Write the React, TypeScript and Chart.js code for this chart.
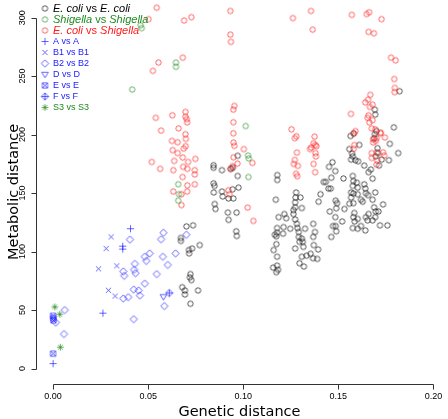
import React, { useEffect, useRef } from "react";
import { Chart, registerables } from "chart.js";

Chart.register(...registerables);

// ---- axis ticks & titles ----
const xTicks = [0, 0.05, 0.1, 0.15, 0.2];
const xTickLabels = ["0.00", "0.05", "0.10", "0.15", "0.20"];
const yTicks = [0, 50, 100, 150, 200, 250, 300];
const yTickLabels = ["0", "50", "100", "150", "200", "250", "300"];
const xTitle = "Genetic distance";
const yTitle = "Metabolic distance";

type Pt = [number, number];

// ---- series (genetic distance, metabolic distance) ----
const ecoliVsEcoli: Pt[] = [
  [0.0701, 121.5], [0.0736, 122.4], [0.0672, 111.6], [0.0672, 109.1], [0.0731, 102.6], [0.0714, 101.3], [0.0715, 98.4], [0.0771, 105.5],
  [0.0722, 80.7], [0.0719, 77.9], [0.0727, 75.6], [0.0679, 69.5], [0.0693, 66.7], [0.0693, 63.3], [0.0762, 66.7], [0.0722, 55.4],
  [0.0844, 173.8], [0.0844, 171.6], [0.0888, 169.6], [0.0971, 181.9], [0.0945, 171.6], [0.0935, 170.7], [0.0971, 164.6], [0.0844, 158.3],
  [0.0849, 156.1], [0.0845, 150.5], [0.0888, 151.3], [0.0892, 147.1], [0.0922, 145.4], [0.0948, 145.4], [0.0944, 153.2], [0.0975, 154.7],
  [0.085, 140.6], [0.0854, 136.4], [0.0919, 133.3], [0.0965, 133.3], [0.0923, 127.1], [0.0963, 117.3], [0.0966, 113.3],
  [0.1179, 165.4], [0.1179, 161.2], [0.1171, 144.3], [0.1278, 150.5], [0.1301, 146.2], [0.1275, 146.2], [0.1273, 142.0], [0.1273, 137.8],
  [0.1308, 137.2], [0.1264, 135.5], [0.1264, 132.1], [0.1216, 132.1], [0.1226, 128.5], [0.1186, 129.4], [0.1273, 127.4], [0.1282, 123.7],
  [0.1285, 120.1], [0.1247, 119.5], [0.1212, 120.9], [0.1178, 120.1], [0.1178, 116.1], [0.1166, 114.4], [0.1174, 113.1], [0.1209, 115.3],
  [0.1292, 116.7], [0.1292, 112.5], [0.1296, 108.3], [0.1308, 111.1], [0.1325, 119.5], [0.1368, 123.7], [0.1377, 116.7], [0.1174, 106.3],
  [0.116, 101.3], [0.1273, 102.6], [0.1313, 108.3], [0.1316, 104.0], [0.1368, 112.5], [0.1371, 105.5], [0.1308, 95.6], [0.1333, 96.5],
  [0.1354, 98.1], [0.1367, 94.3], [0.1389, 93.7], [0.1394, 101.8], [0.1178, 95.6], [0.1157, 86.3], [0.1178, 88.0], [0.1183, 84.4],
  [0.1174, 82.4], [0.1296, 90.0], [0.1319, 87.2],
  [0.1792, 206.2], [0.1815, 184.2], [0.1771, 192.1], [0.1564, 198.8], [0.1581, 201.1], [0.1558, 187.6], [0.1572, 183.8], [0.1576, 181.4],
  [0.159, 178.1], [0.1604, 177.2], [0.1567, 178.6], [0.161, 191.2], [0.1688, 196.9], [0.1692, 200.5], [0.1706, 188.4], [0.1697, 181.4],
  [0.1714, 173.5], [0.1766, 178.1], [0.1728, 178.6], [0.1469, 176.4], [0.1451, 172.4], [0.1484, 168.8], [0.1463, 163.1], [0.1527, 162.5],
  [0.1576, 164.6], [0.1579, 160.3], [0.1597, 158.9], [0.1576, 156.1], [0.1602, 154.7], [0.1636, 173.5], [0.1659, 167.9], [0.1671, 170.1],
  [0.168, 162.3], [0.1636, 157.5], [0.1642, 153.8], [0.1645, 149.9], [0.1656, 148.2], [0.1567, 150.5], [0.1579, 149.6], [0.1602, 149.0],
  [0.1567, 146.2], [0.1619, 144.3], [0.1628, 142.6], [0.1694, 150.5], [0.168, 144.3], [0.1558, 140.9], [0.1579, 141.4], [0.1735, 140.3],
  [0.1688, 137.8], [0.1711, 134.2], [0.1697, 134.2], [0.1659, 132.1], [0.1584, 133.0], [0.1579, 129.4], [0.1602, 127.9], [0.1586, 125.7],
  [0.1645, 129.4], [0.1654, 126.6], [0.168, 126.6], [0.1694, 129.4], [0.1719, 122.4], [0.1758, 122.4], [0.1576, 120.1], [0.1602, 119.5],
  [0.1619, 121.8], [0.1642, 118.1], [0.1423, 159.5], [0.1434, 159.5], [0.1448, 153.8], [0.146, 153.8], [0.1406, 149.0], [0.1396, 142.6],
  [0.1486, 143.5], [0.1493, 141.4], [0.1489, 137.0], [0.1532, 136.4], [0.1455, 134.2], [0.1484, 129.4], [0.152, 125.7], [0.1472, 121.8],
  [0.1486, 121.8], [0.1489, 117.3], [0.1463, 112.5], [0.1692, 221.3], [0.1694, 217.1], [0.1701, 203.0], [0.1708, 184.2], [0.1822, 237.1],
];

const shigellaVsShigella: Pt[] = [
  [0.046, 293.5], [0.0466, 291.0], [0.0646, 261.6], [0.0646, 257.9], [0.0416, 238.5], [0.1013, 207.3],
  [0.1025, 182.1], [0.1029, 179.6], [0.1027, 163.7], [0.0658, 157.5], [0.0662, 149.0], [0.0658, 143.5],
];

const ecoliVsShigella: Pt[] = [
  [0.0545, 308.5], [0.0502, 298.7], [0.0689, 297.5], [0.0727, 300.4], [0.0932, 305.7], [0.0932, 285.5], [0.0935, 279.3], [0.0682, 265.8],
  [0.0554, 261.6], [0.0525, 254.5], [0.1356, 305.7], [0.1261, 299.6], [0.1365, 289.7], [0.1571, 302.4], [0.1649, 303.0], [0.1662, 304.6],
  [0.1727, 298.7], [0.1659, 287.8], [0.1687, 286.6], [0.1777, 265.8], [0.1801, 263.5], [0.1794, 247.5], [0.1797, 239.9], [0.1796, 236.3],
  [0.0953, 224.5], [0.0948, 221.3], [0.054, 214.3], [0.0627, 216.5], [0.0696, 219.4], [0.0696, 215.2], [0.0703, 213.2], [0.0705, 210.4],
  [0.0948, 210.6], [0.0568, 203.4], [0.066, 205.3], [0.0696, 200.3], [0.0698, 196.3], [0.0948, 201.1], [0.0625, 194.6], [0.0655, 193.5],
  [0.0949, 193.2], [0.0697, 190.1], [0.0687, 188.0], [0.0629, 186.7], [0.1003, 187.6], [0.0953, 190.4], [0.0655, 184.2], [0.0682, 180.4],
  [0.0949, 180.6], [0.0637, 177.5], [0.071, 176.6], [0.0748, 179.2], [0.0519, 176.6], [0.0563, 170.7], [0.0632, 169.6], [0.0684, 172.4],
  [0.0706, 170.7], [0.0745, 169.6], [0.0745, 165.9], [0.0681, 163.7], [0.0706, 156.6], [0.0745, 157.5], [0.0632, 151.3], [0.0705, 151.3],
  [0.0675, 149.0], [0.0675, 139.7], [0.097, 175.2], [0.0932, 170.7], [0.0944, 173.0], [0.1048, 175.8], [0.0922, 152.4], [0.0927, 149.0],
  [0.1023, 137.6], [0.1053, 126.2],
  [0.1254, 204.5], [0.1279, 198.6], [0.1271, 196.9], [0.1282, 184.6], [0.1271, 178.3], [0.1266, 174.9], [0.1287, 173.3], [0.1278, 166.5],
  [0.1284, 164.4],
  [0.1375, 198.3], [0.137, 192.7], [0.1378, 191.0], [0.1357, 188.9], [0.1351, 187.6], [0.1385, 190.1], [0.138, 184.2], [0.1382, 181.3],
  [0.137, 174.9], [0.1378, 167.8],
  [0.1668, 234.0], [0.1656, 229.8], [0.1642, 227.5], [0.168, 225.6], [0.1666, 223.6], [0.1566, 217.7], [0.1659, 216.5], [0.1654, 214.3],
  [0.1663, 210.4], [0.168, 212.3], [0.1676, 205.3], [0.1694, 204.5], [0.1723, 201.7], [0.1745, 197.5], [0.1683, 196.0], [0.1697, 194.6],
  [0.1683, 193.2], [0.159, 203.0], [0.1581, 200.7], [0.1584, 191.0], [0.1581, 187.8], [0.1676, 184.2], [0.1735, 184.8], [0.1741, 182.1],
  [0.1676, 180.0], [0.1702, 184.8], [0.1704, 178.1], [0.1701, 174.3], [0.1722, 201.1], [0.1701, 196.9],
];

const aVsA: Pt[] = [[0.0407, 119.5], [0.0366, 104.6], [0.0366, 102.1], [0.0262, 47.3], [0.0, 4.2]];
const b1VsB1: Pt[] = [[0.0305, 112.5], [0.0279, 102.6], [0.0335, 87.8], [0.0239, 85.2], [0.0291, 66.9], [0.0326, 61.9]];
const b2VsB2: Pt[] = [
  [0.058, 116.1], [0.0568, 110.5], [0.0404, 110.2], [0.0644, 98.4], [0.0508, 98.4], [0.0482, 95.6], [0.049, 92.0], [0.0577, 95.6],
  [0.0603, 88.6], [0.043, 89.5], [0.0426, 84.4], [0.0433, 81.5], [0.0369, 83.0], [0.0374, 79.3], [0.0545, 80.7], [0.0482, 72.6],
  [0.0424, 67.5], [0.045, 66.7], [0.0456, 62.4], [0.0395, 61.0], [0.0369, 59.9], [0.0424, 42.2], [0.0585, 53.4], [0.0061, 50.0],
  [0.0014, 39.3], [0.0057, 29.5], [0.0701, 114.4],
];
const dVsD: Pt[] = [[0.058, 61.3]];
const eVsE: Pt[] = [[0.0, 45.0], [0.0001, 43.0], [0.0002, 41.2], [0.0, 12.7]];
const fVsF: Pt[] = [[0.0611, 64.6]];
const s3VsS3: Pt[] = [[0.0009, 52.6], [0.0035, 46.4], [0.0038, 18.2]];

// ---- styles ----
const BLACK = "#000000";
const GREEN = "#1f8a1f";
const RED = "#ff1a1a";
const BLUE = "#1a1aff";
const LEGEND_FONT = '"Liberation Sans", Arial, sans-serif';
const TITLE_FONT = '"DejaVu Sans", sans-serif';

const X_MIN = -0.008468;
const X_MAX = 0.205039;
const Y_MIN = -13.25;
const Y_MAX = 310.8;

type Seg = [string, boolean];
const series: { label: Seg[]; data: Pt[]; color: string; marker: string; order: number; fontSize: number }[] = [
  { label: [["E. coli", true], [" vs ", false], ["E. coli", true]], data: ecoliVsEcoli, color: BLACK, marker: "circle", order: 10, fontSize: 11 },
  { label: [["Shigella", true], [" vs ", false], ["Shigella", true]], data: shigellaVsShigella, color: GREEN, marker: "circle", order: 8, fontSize: 11 },
  { label: [["E. coli", true], [" vs ", false], ["Shigella", true]], data: ecoliVsShigella, color: RED, marker: "circle", order: 9, fontSize: 11 },
  { label: [["A vs A", false]], data: aVsA, color: BLUE, marker: "plus", order: 1, fontSize: 9 },
  { label: [["B1 vs B1", false]], data: b1VsB1, color: BLUE, marker: "x", order: 2, fontSize: 9 },
  { label: [["B2 vs B2", false]], data: b2VsB2, color: BLUE, marker: "diamond", order: 3, fontSize: 9 },
  { label: [["D vs D", false]], data: dVsD, color: BLUE, marker: "tridown", order: 4, fontSize: 9 },
  { label: [["E vs E", false]], data: eVsE, color: BLUE, marker: "squarex", order: 5, fontSize: 9 },
  { label: [["F vs F", false]], data: fVsF, color: BLUE, marker: "diamondplus", order: 6, fontSize: 9 },
  { label: [["S3 vs S3", false]], data: s3VsS3, color: GREEN, marker: "star", order: 7, fontSize: 9 },
];

function makeMarker(kind: string, color: string): HTMLCanvasElement {
  const s = 11;
  const c = document.createElement("canvas");
  c.width = s;
  c.height = s;
  const g = c.getContext("2d")!;
  g.strokeStyle = color;
  g.lineWidth = 0.8;
  g.globalAlpha = 0.85;
  const m = s / 2;
  g.beginPath();
  const plus = (r: number) => {
    g.moveTo(m - r, m); g.lineTo(m + r, m);
    g.moveTo(m, m - r); g.lineTo(m, m + r);
  };
  const cross = (r: number) => {
    g.moveTo(m - r, m - r); g.lineTo(m + r, m + r);
    g.moveTo(m + r, m - r); g.lineTo(m - r, m + r);
  };
  const diamond = (r: number) => {
    g.moveTo(m, m - r); g.lineTo(m + r, m); g.lineTo(m, m + r); g.lineTo(m - r, m); g.closePath();
  };
  switch (kind) {
    case "circle":
      g.arc(m, m, 2.7, 0, Math.PI * 2);
      break;
    case "plus":
      plus(3.6);
      break;
    case "x":
      cross(2.6);
      break;
    case "diamond":
      diamond(3.6);
      break;
    case "tridown":
      g.moveTo(m - 3.3, m - 2.2); g.lineTo(m + 3.3, m - 2.2); g.lineTo(m, m + 3.3); g.closePath();
      break;
    case "squarex":
      g.rect(m - 2.6, m - 2.6, 5.2, 5.2);
      cross(2.6);
      break;
    case "diamondplus":
      diamond(3.6);
      plus(3.6);
      break;
    case "star":
      plus(3.4);
      cross(2.4);
      break;
  }
  g.stroke();
  return c;
}

export default function App() {
  const ref = useRef<HTMLCanvasElement | null>(null);

  useEffect(() => {
    const canvas = ref.current;
    if (!canvas) return;
    const markers = series.map((s) => makeMarker(s.marker, s.color));

    const axesPlugin = {
      id: "rAxes",
      afterDraw(chart: any) {
        const ctx = chart.ctx as CanvasRenderingContext2D;
        const xs = chart.scales.x;
        const ys = chart.scales.y;
        const area = chart.chartArea;
        ctx.save();
        ctx.strokeStyle = "#333333";
        ctx.lineWidth = 1;
        // y axis
        const ax = Math.round(area.left) - 0.5;
        ctx.beginPath();
        ctx.moveTo(ax, Math.round(ys.getPixelForValue(yTicks[0])) + 0.5);
        ctx.lineTo(ax, Math.round(ys.getPixelForValue(yTicks[yTicks.length - 1])) + 0.5);
        yTicks.forEach((v) => {
          const py = Math.round(ys.getPixelForValue(v)) + 0.5;
          ctx.moveTo(ax, py);
          ctx.lineTo(ax - 5, py);
        });
        // x axis
        const ay = Math.round(area.bottom) + 0.5;
        ctx.moveTo(Math.round(xs.getPixelForValue(xTicks[0])) + 0.5, ay);
        ctx.lineTo(Math.round(xs.getPixelForValue(xTicks[xTicks.length - 1])) + 0.5, ay);
        xTicks.forEach((v) => {
          const px = Math.round(xs.getPixelForValue(v)) + 0.5;
          ctx.moveTo(px, ay);
          ctx.lineTo(px, ay + 5);
        });
        ctx.stroke();

        ctx.fillStyle = "#000000";
        ctx.font = `9px ${LEGEND_FONT}`;
        ctx.textAlign = "center";
        ctx.textBaseline = "middle";
        xTicks.forEach((v, i) => {
          ctx.fillText(xTickLabels[i], xs.getPixelForValue(v), ay + 12);
        });
        yTicks.forEach((v, i) => {
          ctx.save();
          ctx.translate(ax - 13.5, ys.getPixelForValue(v));
          ctx.rotate(-Math.PI / 2);
          ctx.fillText(yTickLabels[i], 0, 0);
          ctx.restore();
        });

        ctx.font = `14.5px ${TITLE_FONT}`;
        ctx.fillText(xTitle, xs.getPixelForValue(0.098), ay + 27.5);
        ctx.save();
        ctx.translate(14, ys.getPixelForValue(151));
        ctx.rotate(-Math.PI / 2);
        ctx.fillText(yTitle, 0, 0);
        ctx.restore();

        // legend
        series.forEach((s, i) => {
          const ry = 8.5 + i * 11;
          const mk = markers[i];
          ctx.drawImage(mk, 45 - mk.width / 2, ry - mk.height / 2);
          let tx = 53;
          ctx.textAlign = "left";
          ctx.fillStyle = s.color;
          s.label.forEach(([t, it]) => {
            ctx.font = `${it ? "italic " : ""}${s.fontSize}px ${LEGEND_FONT}`;
            ctx.fillText(t, tx, ry);
            tx += ctx.measureText(t).width;
          });
        });
        ctx.restore();
      },
    };

    const chart = new Chart(canvas, {
      type: "scatter",
      data: {
        datasets: series.map((s, i) => ({
          label: s.label.map((p) => p[0]).join(""),
          data: s.data.map(([x, y]) => ({ x, y })),
          pointStyle: markers[i] as any,
          pointRadius: 4,
          pointHoverRadius: 4,
          borderColor: s.color,
          backgroundColor: "transparent",
          order: s.order,
          clip: false as any,
        })),
      },
      options: {
        animation: false,
        responsive: false,
        devicePixelRatio: 1,
        events: [],
        layout: { padding: { left: 37, right: 0, top: 0, bottom: 35 } },
        scales: {
          x: { type: "linear", display: false, min: X_MIN, max: X_MAX },
          y: { type: "linear", display: false, min: Y_MIN, max: Y_MAX },
        },
        plugins: { legend: { display: false }, tooltip: { enabled: false } },
      },
      plugins: [axesPlugin],
    });
    return () => chart.destroy();
  }, []);

  return (
    <div style={{ position: "fixed", left: 0, top: 0, width: 448, height: 419, background: "#ffffff" }}>
      <canvas ref={ref} width={448} height={419} style={{ display: "block" }} />
    </div>
  );
}
